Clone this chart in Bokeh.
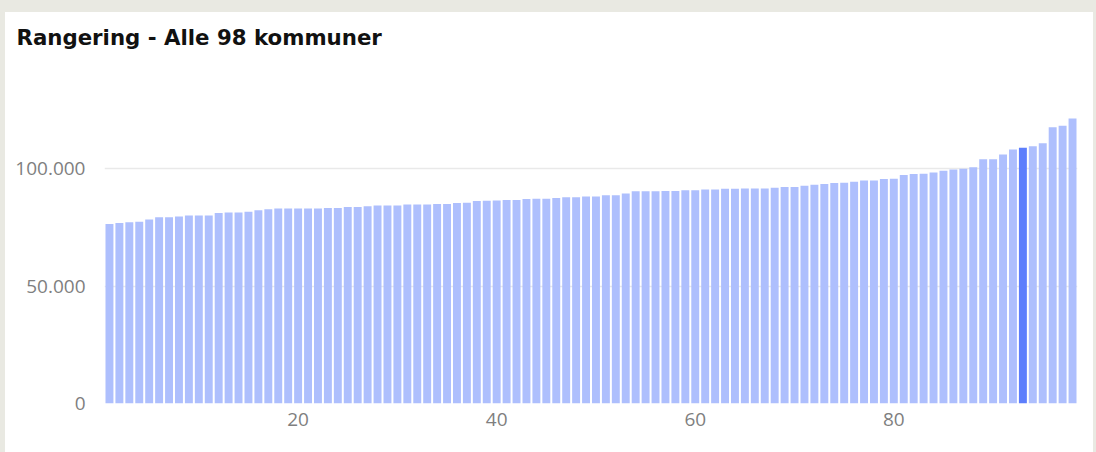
from bokeh.plotting import figure
from bokeh.models import ColumnDataSource, Range1d, FixedTicker
from bokeh.embed import file_html
from bokeh.resources import INLINE

TITLE = "Rangering - Alle 98 kommuner"
values = [
    76500, 76900, 77200, 77400, 78400, 79300, 79300, 79700, 80100, 80100,
    80100, 81100, 81400, 81400, 81700, 82300, 82700, 83100, 83100, 83100,
    83100, 83100, 83300, 83300, 83700, 83700, 84000, 84300, 84300, 84300,
    84800, 84800, 84800, 85000, 85000, 85400, 85500, 86200, 86400, 86500,
    86700, 86700, 87100, 87200, 87200, 87500, 87800, 87800, 88200, 88200,
    88700, 88700, 89400, 90400, 90400, 90400, 90500, 90500, 90800, 90800,
    91100, 91100, 91500, 91500, 91600, 91600, 91600, 91900, 92200, 92200,
    92800, 93200, 93500, 93900, 94000, 94500, 95000, 95000, 95600, 95700,
    97300, 97700, 97900, 98400, 99100, 99700, 100000, 100600, 104000, 104000,
    106100, 108200, 108900, 109600, 110800, 117700, 118300, 121400,
]
ranks = list(range(1, len(values) + 1))
highlight_rank = 93
x_ticks = [20, 40, 60, 80]
y_ticks = [0, 50000, 100000]
y_labels = {0: "0", 50000: "50.000", 100000: "100.000"}

BAR = "#aebffd"
BAR_HI = "#5d7efc"
colors = [BAR_HI if r == highlight_rank else BAR for r in ranks]

src = ColumnDataSource(dict(x=ranks, top=values, color=colors))

p = figure(width=1088, height=446, output_backend="svg", toolbar_location=None,
           x_range=Range1d(0.5, 98.5), y_range=Range1d(0, 147800),
           min_border_left=99, min_border_right=16, min_border_top=50,
           min_border_bottom=49, title=TITLE)
p.outline_line_color = None
p.background_fill_color = "white"
p.border_fill_color = "white"
p.styles = {"background-color": "white"}

p.vbar(x="x", top="top", width=0.8, fill_color="color", line_color=None, source=src)

p.title.text_font = "DejaVu Sans"
p.title.text_font_style = "bold"
p.title.text_font_size = "21.3px"
p.title.text_color = "#111111"
p.title.align = "left"
p.title.offset = -88
p.title.standoff = 14

p.xgrid.grid_line_color = None
p.ygrid.grid_line_color = "#e9e9e9"
p.ygrid.grid_line_width = 1.5
p.ygrid.ticker = FixedTicker(ticks=y_ticks)

for ax in (p.xaxis[0], p.yaxis[0]):
    ax.axis_line_color = None
    ax.major_tick_line_color = None
    ax.minor_tick_line_color = None
    ax.major_tick_out = 0
    ax.major_tick_in = 0
    ax.major_label_text_font = "Open Sans"
    ax.major_label_text_font_size = "19px"
    ax.major_label_text_color = "#7f7f7f"

p.xaxis.ticker = FixedTicker(ticks=x_ticks)
p.xaxis.major_label_standoff = 9
p.yaxis.ticker = FixedTicker(ticks=y_ticks)
p.yaxis.major_label_overrides = y_labels
p.yaxis.major_label_standoff = 19

css = ("<style>html,body{background:#e9e9e2;margin:0;}"
       "body{padding:6px 0 0 5px;margin:0;}"
       "body::before{content:'';position:fixed;top:0;left:0;right:0;height:12px;"
       "background:#e9e9e2;z-index:100;}</style></head>")
html = file_html(p, INLINE)
html = html.replace("</head>", css, 1)
open("out.html", "w").write(html)
